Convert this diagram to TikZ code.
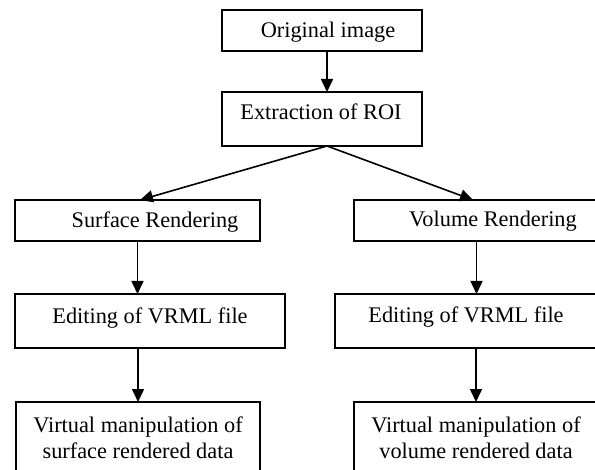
\documentclass[tikz,border=0pt]{standalone}
\usepackage{fontspec}
\setmainfont{Liberation Serif}
\usetikzlibrary{arrows.meta}
\tikzset{
  box/.style={draw=black, line width=1.6bp, inner sep=0pt, outer sep=0pt},
  txt/.style={inner sep=0pt, outer sep=0pt, font=\fontsize{22.4}{26}\selectfont, align=center, anchor=base},
  arr/.style={line width=1.6bp, -{Triangle[length=13bp,width=12bp]}},
}
\begin{document}
\begin{tikzpicture}[x=1bp,y=-1bp]
\useasboundingbox (0,0) rectangle (595,470);
\clip (0,0) rectangle (595,470);
\fill[white] (0,0) rectangle (595,470);
% boxes
\node[box, minimum width=200bp, minimum height=41bp] (orig) at (322,30.5) {};
\node[box, minimum width=200bp, minimum height=54bp] (extr) at (322,119) {};
\node[box, minimum width=245bp, minimum height=41bp] (surf) at (137.5,220.5) {};
\node[box, minimum width=245bp, minimum height=41bp] (vol) at (476.5,220.5) {};
\node[box, minimum width=270bp, minimum height=54bp] (edl) at (150,321) {};
\node[box, minimum width=270bp, minimum height=54bp] (edr) at (470,321) {};
\node[box, minimum width=244bp, minimum height=80bp] (virl) at (138,442) {};
\node[box, minimum width=244bp, minimum height=80bp] (virr) at (476,442) {};
% texts
\node[txt] (torig) at (328,38) {Original image};
\node[txt] (textr) at (321,120) {Extraction of ROI};
\node[txt] (tsurf) at (155,228) {Surface Rendering};
\node[txt] (tvol) at (493,227) {Volume Rendering};
\node[txt] (tedl) at (150,323) {Editing of VRML file};
\node[txt] (tedr) at (466,322) {Editing of VRML file};
\node[txt] (tvirl) at (138,458) {Virtual manipulation of\\surface rendered data};
\node[txt] (tvirr) at (476,458) {Virtual manipulation of\\volume rendered data};
% connectors
\draw[arr] ([xshift=5bp]orig.south) -- ([xshift=5bp]extr.north);
\draw[arr] ([xshift=5bp]extr.south) -- ([xshift=2.5bp]surf.north);
\draw[arr] ([xshift=5bp]extr.south) -- ([xshift=-3.5bp]vol.north);
\draw[arr] (surf.south) -- (surf.south |- edl.north);
\draw[arr] (vol.south) -- (vol.south |- edr.north);
\draw[arr] (virl.north |- edl.south) -- (virl.north);
\draw[arr] (virr.north |- edr.south) -- (virr.north);
\end{tikzpicture}
\end{document}
